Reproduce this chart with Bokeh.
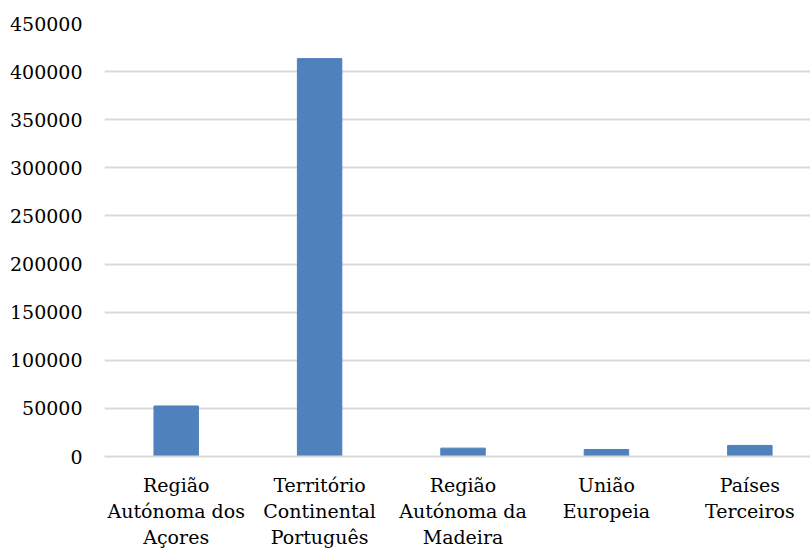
from bokeh.plotting import figure
from bokeh.models import Range1d, FixedTicker, ColumnDataSource
from bokeh.embed import file_html
from bokeh.resources import INLINE

# Categories and values
categories = [
    "Região\nAutónoma dos\nAçores",
    "Território\nContinental\nPortuguês",
    "Região\nAutónoma da\nMadeira",
    "União\nEuropeia",
    "Países\nTerceiros",
]
values = [52500, 413500, 8700, 7300, 11500]
y_ticks = [0, 50000, 100000, 150000, 200000, 250000, 300000, 350000, 400000, 450000]

positions = list(range(len(categories)))
source = ColumnDataSource(data=dict(x=positions, top=values))

p = figure(
    width=810, height=551,
    frame_width=706, frame_height=433,
    x_range=Range1d(-0.5, 4.423),
    y_range=Range1d(0, 450000),
    output_backend="svg", toolbar_location=None,
    min_border_left=104, min_border_right=0,
    min_border_top=23, min_border_bottom=0,
)
p.outline_line_color = None
p.background_fill_color = "white"
p.border_fill_color = "white"

p.vbar(x="x", top="top", width=0.31, bottom=0, source=source,
       fill_color="#4f81bd", line_color="#4f81bd")

font = "DejaVu Serif"

# y axis
p.yaxis.ticker = FixedTicker(ticks=y_ticks)
p.yaxis.axis_line_color = None
p.yaxis.major_tick_line_color = None
p.yaxis.minor_tick_line_color = None
p.yaxis.major_label_text_font = font
p.yaxis.major_label_text_font_size = "19px"
p.yaxis.major_label_text_color = "#000000"
p.yaxis.major_label_standoff = 16
p.yaxis.formatter.use_scientific = False

# x axis
p.xaxis.ticker = FixedTicker(ticks=positions)
p.xaxis.major_label_overrides = {i: c for i, c in zip(positions, categories)}
p.xaxis.axis_line_color = "#d9d9d9"
p.xaxis.axis_line_width = 2
p.xaxis.major_tick_line_color = None
p.xaxis.minor_tick_line_color = None
p.xaxis.major_label_text_font = font
p.xaxis.major_label_text_font_size = "19px"
p.xaxis.major_label_text_color = "#000000"
p.xaxis.major_label_text_line_height = 1.2
p.xaxis.major_label_standoff = 11

p.xgrid.grid_line_color = None
p.ygrid.grid_line_color = "#d9d9d9"
p.ygrid.grid_line_width = 2
p.ygrid.level = "underlay"

open("out.html", "w").write(file_html(p, INLINE))
